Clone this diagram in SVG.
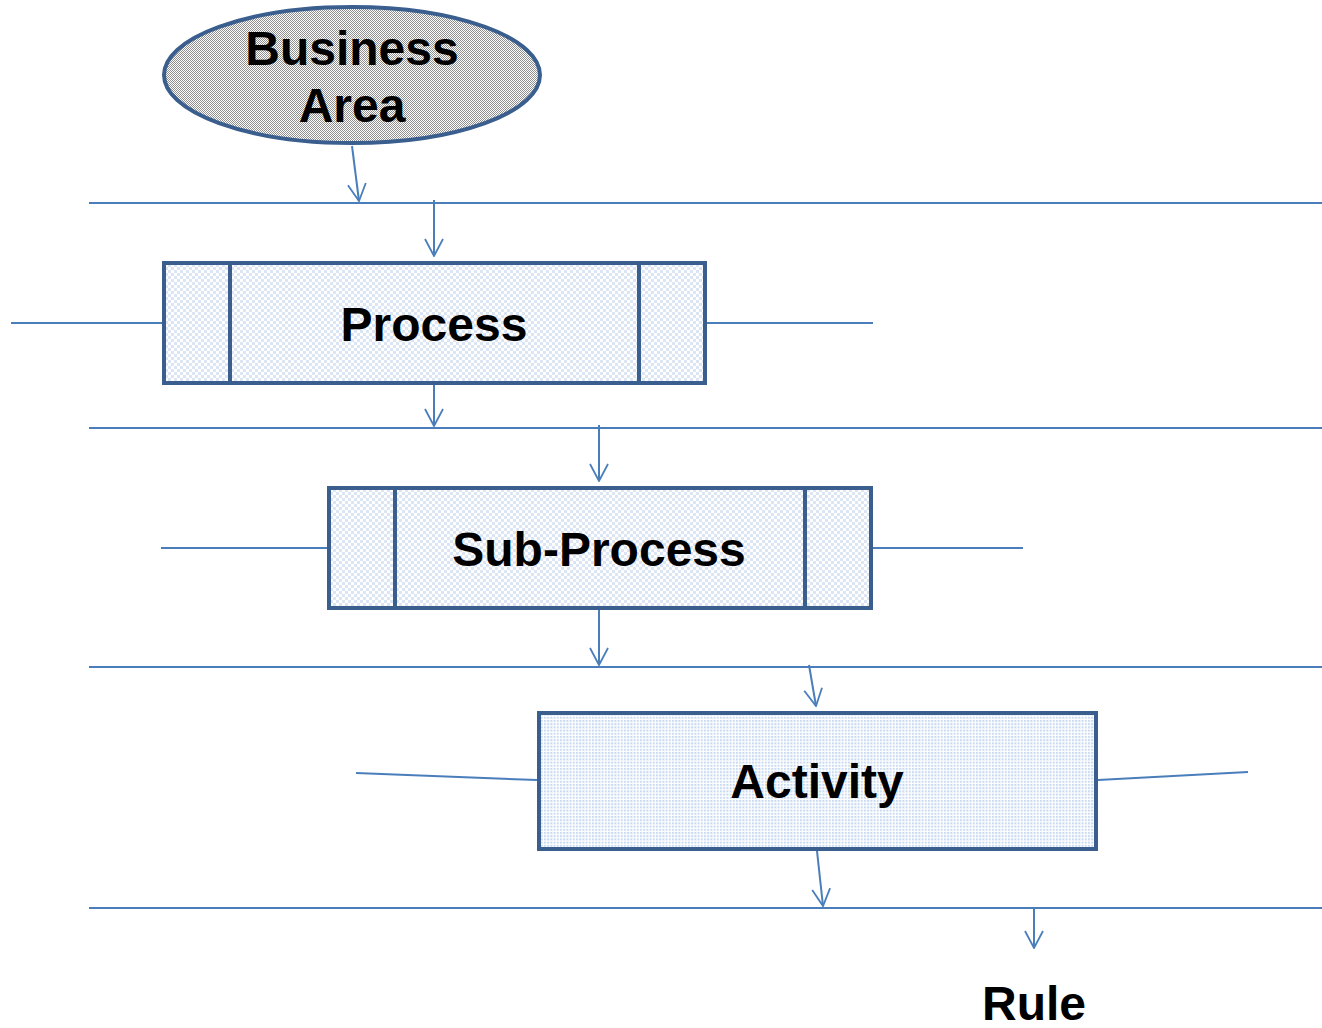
<svg xmlns="http://www.w3.org/2000/svg" width="1322" height="1028" viewBox="0 0 1322 1028">
<defs>
<pattern id="pGray" width="2" height="2" patternUnits="userSpaceOnUse">
<rect width="2" height="2" fill="#ffffff"/>
<rect width="1" height="1" fill="#8f8f8f"/>
<rect x="1" y="1" width="1" height="1" fill="#8f8f8f"/>
</pattern>
<pattern id="pBlue" width="6" height="6" patternUnits="userSpaceOnUse">
<rect width="6" height="6" fill="#ffffff"/>
<rect width="3" height="3" fill="#dbe5f4"/>
<rect x="3" y="3" width="3" height="3" fill="#dbe5f4"/>
</pattern>
<pattern id="pDots" width="3.2" height="3.2" patternUnits="userSpaceOnUse">
<rect width="3.2" height="3.2" fill="#ffffff"/>
<rect width="2" height="2" fill="#c8daf1"/>
</pattern>
<marker id="arr" viewBox="0 0 19 20" refX="18" refY="10" markerWidth="19" markerHeight="20" markerUnits="userSpaceOnUse" orient="auto">
<path d="M1,1 L18,10 L1,19" fill="none" stroke="#4a7ebb" stroke-width="1.8"/>
</marker>
</defs>
<style>
.box{stroke:#3a5f8f;stroke-width:4;}
.div{stroke:#3a5f8f;stroke-width:4;}
.ln{stroke:#4a7ebb;stroke-width:2;fill:none;}
.arw{stroke:#4a7ebb;stroke-width:2;fill:none;}
.lbl{font-family:"Liberation Sans",Arial,sans-serif;font-weight:bold;font-size:48px;fill:#000;text-anchor:middle;}
</style>
<g id="connectors">
<line class="ln" x1="89" y1="203" x2="1322" y2="203"/>
<line class="ln" x1="89" y1="428" x2="1322" y2="428"/>
<line class="ln" x1="89" y1="667" x2="1322" y2="667"/>
<line class="ln" x1="89" y1="908" x2="1322" y2="908"/>
<line class="ln" x1="11" y1="323" x2="162" y2="323"/>
<line class="ln" x1="707" y1="323" x2="873" y2="323"/>
<line class="ln" x1="161" y1="548" x2="327" y2="548"/>
<line class="ln" x1="873" y1="548" x2="1023" y2="548"/>
<line class="ln" x1="356" y1="773" x2="537" y2="780"/>
<line class="ln" x1="1098" y1="780" x2="1248" y2="772"/>
<line class="arw" x1="352" y1="146" x2="359" y2="201" marker-end="url(#arr)"/>
<line class="arw" x1="434" y1="200" x2="434" y2="256" marker-end="url(#arr)"/>
<line class="arw" x1="434" y1="385" x2="434" y2="426" marker-end="url(#arr)"/>
<line class="arw" x1="599" y1="425" x2="599" y2="481" marker-end="url(#arr)"/>
<line class="arw" x1="599" y1="610" x2="599" y2="665" marker-end="url(#arr)"/>
<line class="arw" x1="809" y1="665" x2="816" y2="706" marker-end="url(#arr)"/>
<line class="arw" x1="817" y1="851" x2="823" y2="906" marker-end="url(#arr)"/>
<line class="arw" x1="1034" y1="908" x2="1034" y2="948" marker-end="url(#arr)"/>
</g>
<g id="business-area">
<ellipse cx="352" cy="75" rx="188" ry="68" fill="url(#pGray)" stroke="#3a5f8f" stroke-width="4"/>
<text class="lbl" x="352" y="65">Business</text>
<text class="lbl" x="352" y="122">Area</text>
</g>
<g id="process">
<rect class="box" x="164" y="263" width="541" height="120" fill="url(#pBlue)"/>
<line class="div" x1="230" y1="263" x2="230" y2="383"/>
<line class="div" x1="639" y1="263" x2="639" y2="383"/>
<text class="lbl" x="434" y="341">Process</text>
</g>
<g id="sub-process">
<rect class="box" x="329" y="488" width="542" height="120" fill="url(#pBlue)"/>
<line class="div" x1="395" y1="488" x2="395" y2="608"/>
<line class="div" x1="805" y1="488" x2="805" y2="608"/>
<text class="lbl" x="599" y="566">Sub-Process</text>
</g>
<g id="activity">
<rect class="box" x="539" y="713" width="557" height="136" fill="url(#pDots)"/>
<text class="lbl" x="817" y="798">Activity</text>
</g>
<g id="rule">
<text class="lbl" x="1034" y="1020">Rule</text>
</g>
</svg>
